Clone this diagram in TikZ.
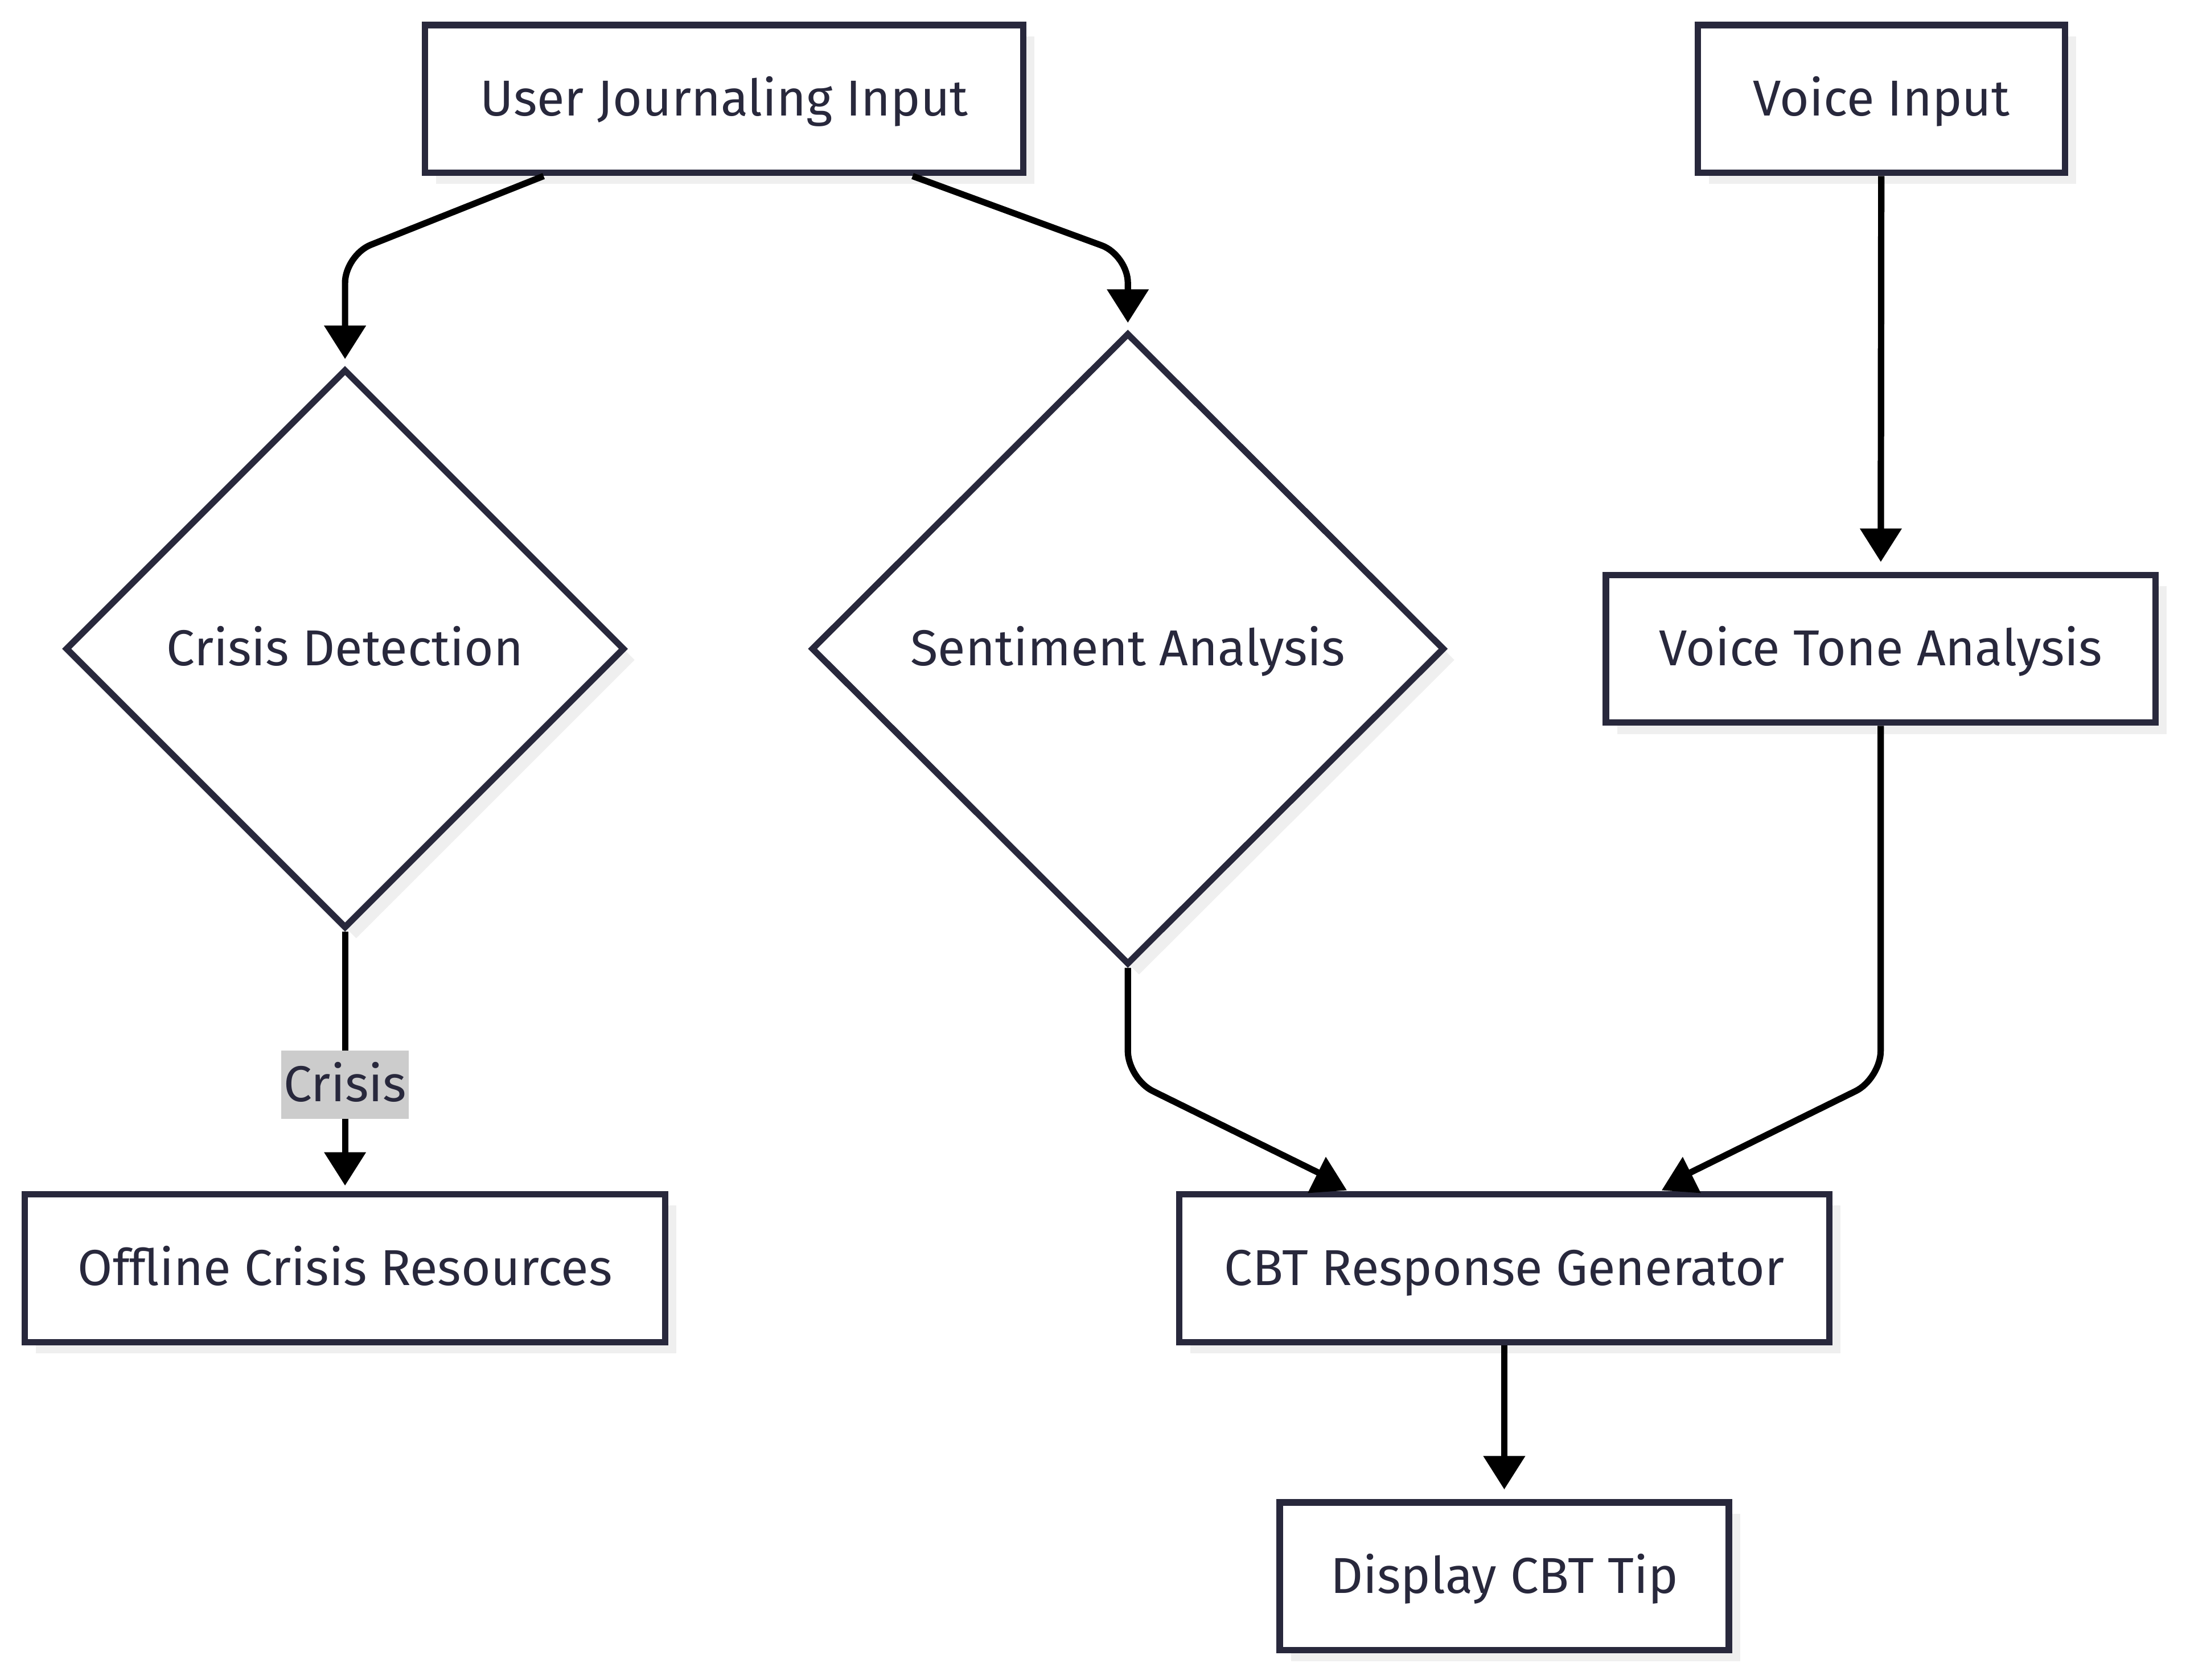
\documentclass[tikz,border=0pt]{standalone}
\usepackage{fontspec}
\setmainfont{Fira Sans}
\usetikzlibrary{shapes.geometric,arrows.meta,shadows}

\definecolor{nodeline}{HTML}{28283C}
\definecolor{shadowgray}{HTML}{EFEFEF}
\definecolor{labelgray}{HTML}{CCCCCC}

\begin{document}
\begin{tikzpicture}[x=0.01cm, y=-0.01cm,
	every node/.style={font=\fontsize{10.3}{12}\selectfont, text=nodeline, text height=0.69em, text depth=0pt},
	shade/.style={drop shadow={shadow xshift=0.08cm, shadow yshift=-0.08cm, fill=shadowgray, opacity=1}},
	box/.style={rectangle, draw=nodeline, line width=1.3pt, fill=white, shade, minimum height=1.06cm, inner sep=0pt},
	decision/.style={diamond, aspect=1, draw=nodeline, line width=1.3pt, fill=white, shade, inner sep=0pt},
	flow/.style={draw=black, line width=1.3pt, line join=round},
	arrowed/.style={flow, -{Triangle[length=0.24cm, width=0.29cm]}},
	tipfill/.style={fill=black},
	lbl/.style={fill=labelgray, inner xsep=0.5pt, inner ysep=0pt, minimum height=0.49cm}]
	\useasboundingbox (0, 0) rectangle (1568, 1205);

	% boxes
	\node[box, minimum width=4.29cm] (uji) at (519.5, 71) {User Journaling Input};
	\node[box, minimum width=2.63cm] (voice) at (1349.5, 71) {Voice Input};
	\node[box, minimum width=3.94cm] (vta) at (1349, 465.5) {Voice Tone Analysis};
	\node[box, minimum width=4.59cm] (offline) at (247.5, 910) {Offline Crisis Resources};
	\node[box, minimum width=4.66cm] (cbt) at (1079, 910) {CBT Response Generator};
	\node[box, minimum width=3.22cm] (tip) at (1079, 1131) {Display CBT Tip};

	% decisions
	\node[decision, minimum width=4.01cm, minimum height=4.01cm] (crisis) at (247.5, 465.5) {Crisis Detection};
	\node[decision, minimum width=4.54cm, minimum height=4.53cm] (sent) at (809, 465.5) {Sentiment Analysis};

	% connectors
	\draw[arrowed, rounded corners=0.2cm, shorten >=0.05cm] ([xshift=-1.295cm]uji.south) -- (crisis.north |- 0,183) -- (crisis.north);
	\draw[arrowed, rounded corners=0.2cm, shorten >=0.05cm] ([xshift=1.35cm]uji.south) -- (sent.north |- 0,183) -- (sent.north);
	\draw[arrowed, shorten >=0.07cm] (voice) -- (vta);
	\draw[arrowed, shorten >=0.04cm] (crisis.south) -- (offline.north)
		node[lbl, pos=0.59] {Crisis};
	\draw[arrowed, shorten >=0.07cm] (cbt) -- (tip);

	% the two into the generator
	\coordinate (hitL) at (951, 844);
	\coordinate (hitR) at (1207, 844);
	\draw[flow, rounded corners=0.2cm] (sent.south) -- (sent.south |- 0,774) -- (hitL);
	\fill[tipfill] ([shift={(-13,12)}]hitL) -- ([shift={(0,-14)}]hitL) -- ([shift={(15,10)}]hitL) -- cycle;
	\draw[flow, rounded corners=0.2cm] (vta.south) -- (vta.south |- 0,774) -- (hitR);
	\fill[tipfill] ([shift={(-15,10)}]hitR) -- ([shift={(0,-14)}]hitR) -- ([shift={(13,12)}]hitR) -- cycle;
\end{tikzpicture}
\end{document}
